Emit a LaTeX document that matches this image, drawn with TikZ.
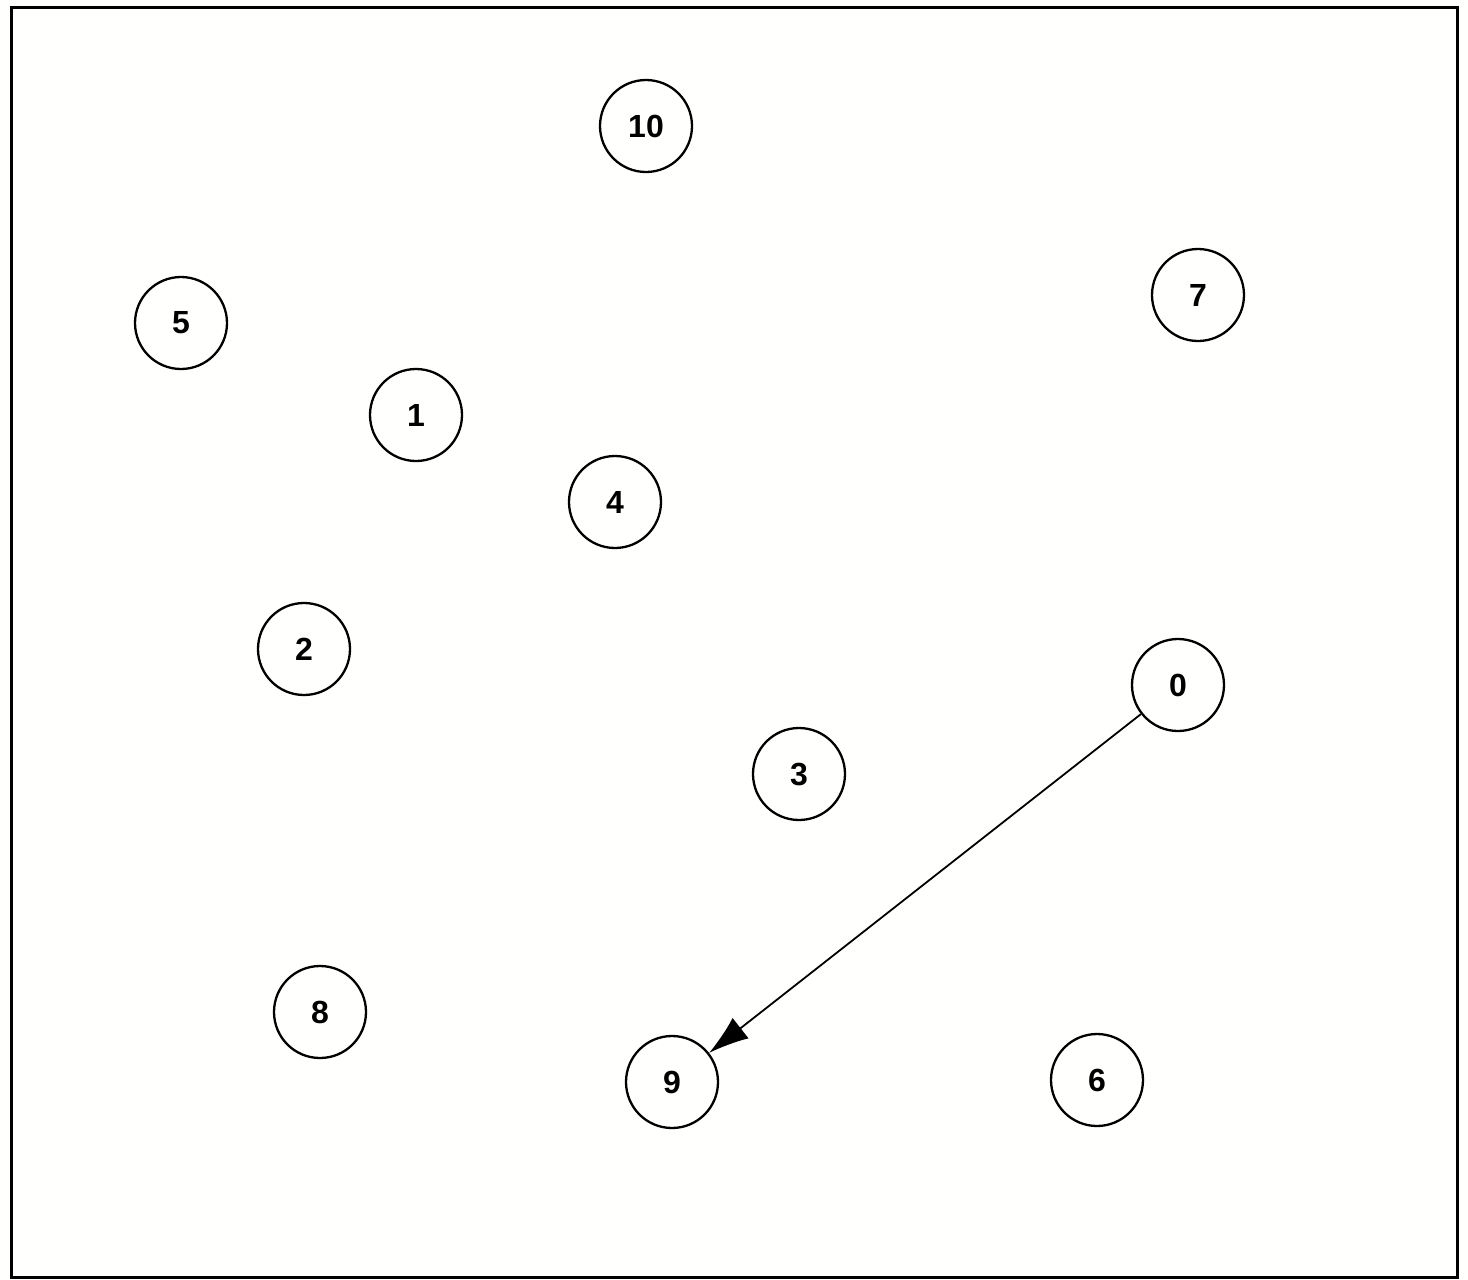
\documentclass[tikz,border=0pt]{standalone}
\usepackage{fontspec}
\setmainfont{Liberation Sans}
\usetikzlibrary{arrows.meta}
\begin{document}
\begin{tikzpicture}[x=1pt,y=-1pt,
  vtx/.style={circle,draw=black,line width=2.3pt,minimum size=92pt,inner sep=0pt,font=\fontsize{32}{33}\selectfont\bfseries},
  edge/.style={line width=1.8pt,-{Latex[length=40pt,width=26pt]}}]
\useasboundingbox (0,0) rectangle (1468,1280);
\fill[white!99.5!yellow] (0,0) rectangle (1468,1280);
\draw[line width=3pt] (11,7) rectangle (1457,1277);
\node[vtx] (n10) at (646,126) {10};
\node[vtx] (n7) at (1198,295) {7};
\node[vtx] (n5) at (181,323) {5};
\node[vtx] (n1) at (416,415) {1};
\node[vtx] (n4) at (615,502) {4};
\node[vtx] (n2) at (304,649) {2};
\node[vtx] (n0) at (1178,685) {0};
\node[vtx] (n3) at (799,774) {3};
\node[vtx] (n8) at (320,1012) {8};
\node[vtx] (n9) at (672,1082) {9};
\node[vtx] (n6) at (1097,1080) {6};
\draw[edge] (n0) -- (n9);
\end{tikzpicture}
\end{document}
